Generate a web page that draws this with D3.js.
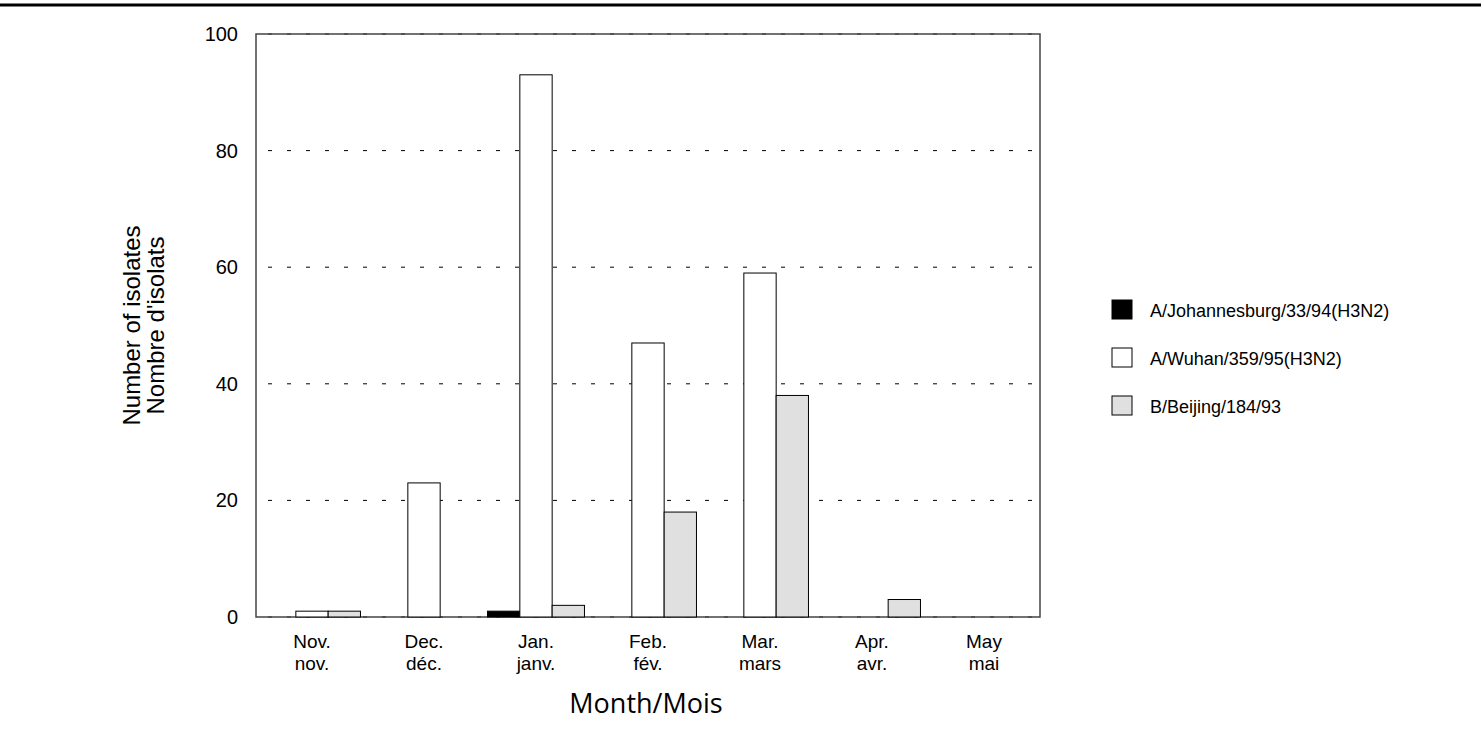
<!DOCTYPE html>
<html>
<head>
<meta charset="utf-8">
<script src="https://cdn.jsdelivr.net/npm/d3@7"></script>
<style>
  body { margin: 0; background: #fff; }
  svg { display: block; }
</style>
</head>
<body>
<div class="chart"></div>
<script>
// ------------------------------------------------------------------
// Data
var months_en = ["Nov.", "Dec.", "Jan.", "Feb.", "Mar.", "Apr.", "May"];
var months_fr = ["nov.", "déc.", "janv.", "fév.", "mars", "avr.", "mai"];
var series_names = ["A/Johannesburg/33/94(H3N2)", "A/Wuhan/359/95(H3N2)", "B/Beijing/184/93"];
var johannesburg = [0, 0, 1, 0, 0, 0, 0];
var wuhan        = [1, 23, 93, 47, 59, 0, 0];
var beijing      = [1, 0, 2, 18, 38, 3, 0];
var y_ticks = [0, 20, 40, 60, 80, 100];
var series_colors = ["#000000", "#ffffff", "#e0e0e0"];

function draw_chart()
{
  // ------------------------------------------------------------------
  // Layout
  var width = 1481, height = 740;
  var plot_left = 256, plot_right = 1040, plot_top = 34, plot_bottom = 617;
  var font = "'Liberation Sans', Arial, sans-serif";

  var svg = d3.select(".chart").append("svg")
    .attr("width", width)
    .attr("height", height);

  // top rule across the page
  svg.append("line")
    .attr("x1", 0).attr("x2", width)
    .attr("y1", 5).attr("y2", 5)
    .attr("stroke", "#000").attr("stroke-width", 3);

  var x = d3.scaleBand()
    .domain(d3.range(months_en.length))
    .range([plot_left, plot_right])
    .paddingInner(0).paddingOuter(0);

  var x_inner = d3.scaleBand()
    .domain(d3.range(series_names.length))
    .range([0, x.bandwidth()])
    .paddingOuter(0.233);

  var y = d3.scaleLinear()
    .domain([0, 100])
    .range([plot_bottom, plot_top]);

  // gridlines (dashed)
  svg.append("g")
    .selectAll("line")
    .data(y_ticks)
    .enter().append("line")
    .attr("x1", plot_left).attr("x2", plot_right)
    .attr("y1", function(d) { return y(d); })
    .attr("y2", function(d) { return y(d); })
    .attr("stroke", "#000")
    .attr("stroke-width", 1)
    .attr("stroke-dasharray", "4,15")
    .attr("stroke-dashoffset", -12);

  // frame
  svg.append("rect")
    .attr("x", plot_left).attr("y", plot_top)
    .attr("width", plot_right - plot_left)
    .attr("height", plot_bottom - plot_top)
    .attr("fill", "none")
    .attr("stroke", "#444")
    .attr("stroke-width", 1.5);

  // y axis labels
  var yAxis = d3.axisLeft(y)
    .tickValues(y_ticks)
    .tickSize(0)
    .tickPadding(18);

  var gy = svg.append("g")
    .attr("transform", "translate(" + plot_left + ",0)")
    .call(yAxis);
  gy.select(".domain").remove();
  gy.selectAll("text")
    .attr("font-family", font)
    .attr("font-size", 20)
    .attr("fill", "#000");

  // ------------------------------------------------------------------
  // Bars
  var all_series = [johannesburg, wuhan, beijing];
  var bars = [];
  for (var i = 0; i < months_en.length; i++) {
    for (var s = 0; s < all_series.length; s++) {
      if (all_series[s][i] > 0) bars.push({ m: i, s: s, v: all_series[s][i] });
    }
  }

  svg.append("g")
    .selectAll("rect")
    .data(bars)
    .enter().append("rect")
    .attr("x", function(d) { return x(d.m) + x_inner(d.s); })
    .attr("y", function(d) { return y(d.v); })
    .attr("width", x_inner.bandwidth())
    .attr("height", function(d) { return y(0) - y(d.v); })
    .attr("fill", function(d) { return series_colors[d.s]; })
    .attr("stroke", "#000")
    .attr("stroke-width", 1);

  // x labels (two lines)
  var xl = svg.append("g")
    .selectAll("text")
    .data(d3.range(months_en.length))
    .enter().append("text")
    .attr("text-anchor", "middle")
    .attr("font-family", font)
    .attr("font-size", 19)
    .attr("fill", "#000");
  xl.append("tspan")
    .attr("x", function(d) { return x(d) + x.bandwidth() / 2; })
    .attr("y", 648)
    .text(function(d) { return months_en[d]; });
  xl.append("tspan")
    .attr("x", function(d) { return x(d) + x.bandwidth() / 2; })
    .attr("y", 670)
    .text(function(d) { return months_fr[d]; });

  // axis titles
  svg.append("text")
    .attr("x", (plot_left + plot_right) / 2 - 2)
    .attr("y", 713)
    .attr("text-anchor", "middle")
    .attr("font-family", "'Open Sans', sans-serif")
    .attr("font-size", 27)
    .attr("fill", "#000")
    .text("Month/Mois");

  var yt = svg.append("text")
    .attr("transform", "translate(0," + ((plot_top + plot_bottom) / 2) + ") rotate(-90)")
    .attr("text-anchor", "middle")
    .attr("font-family", font)
    .attr("font-size", 24)
    .attr("fill", "#000");
  yt.append("tspan").attr("x", 0).attr("y", 140).text("Number of isolates");
  yt.append("tspan").attr("x", 0).attr("y", 164).text("Nombre d'isolats");

  // ------------------------------------------------------------------
  // Legend
  var legend = svg.append("g")
    .selectAll("g")
    .data(series_names)
    .enter().append("g")
    .attr("transform", function(d, i) { return "translate(1112," + (300 + i * 48) + ")"; });

  legend.append("rect")
    .attr("width", 20).attr("height", 19)
    .attr("fill", function(d, i) { return series_colors[i]; })
    .attr("stroke", "#000")
    .attr("stroke-width", 1);

  legend.append("text")
    .attr("x", 38)
    .attr("y", 17)
    .attr("font-family", font)
    .attr("font-size", 18)
    .attr("fill", "#000")
    .text(function(d) { return d; });
}

draw_chart();
</script>
</body>
</html>
